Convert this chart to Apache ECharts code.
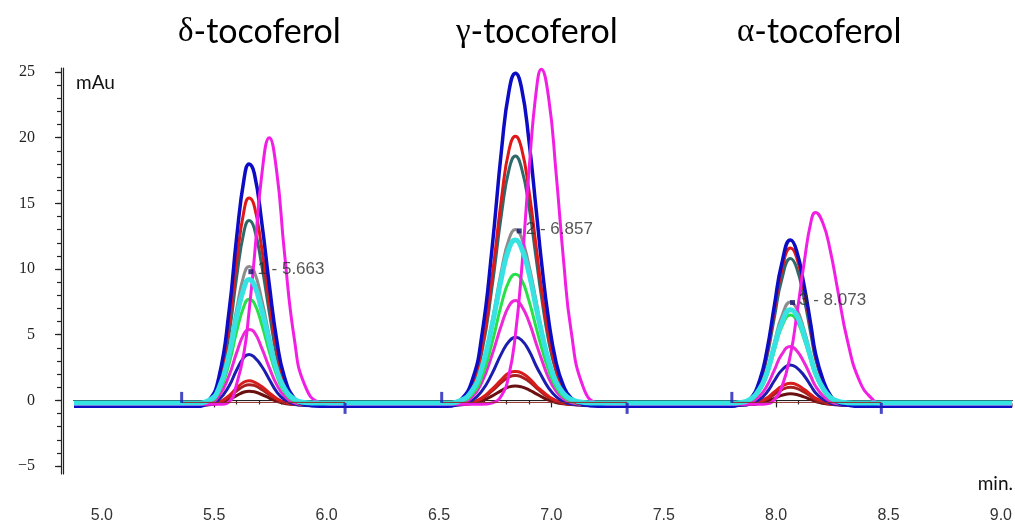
<!DOCTYPE html>
<html><head><meta charset="utf-8">
<script src="https://cdn.jsdelivr.net/npm/echarts@6/dist/echarts.min.js"></script>
<style>html,body{margin:0;padding:0;background:#fff}#c{width:1015px;height:524px}</style>
</head><body><div id="c"></div>
<script>
// ---- time grid (min) ----
const tLead  = [4.876, 5.00, 5.20, 5.355];
const tDelta = [5.42, 5.476, 5.521, 5.566, 5.599, 5.633, 5.655, 5.678, 5.711, 5.745, 5.778, 5.812, 5.857, 5.902, 5.969, 6.036];
const tGap1  = [6.082, 6.30, 6.512];
const tGamma = [6.537, 6.592, 6.647, 6.691, 6.735, 6.779, 6.812, 6.84, 6.867, 6.90, 6.933, 6.955, 6.988, 7.021, 7.054, 7.087, 7.142, 7.208, 7.285];
const tGap2  = [7.337, 7.55, 7.803];
const tAlpha = [7.838, 7.882, 7.926, 7.959, 7.992, 8.025, 8.064, 8.091, 8.124, 8.155, 8.175, 8.208, 8.241, 8.274, 8.318, 8.373, 8.428];
const tTail  = [8.468, 8.70, 9.05];

// ---- traces (mAu) : baseline level + values over each peak window ----
const blueMainBase = -0.45;
const blueMainD = [-0.45,0.0,1.8,6.8,12.3,16.9,18.0,17.3,13.6,8.8,4.6,1.8,0.15,-0.3,-0.45,-0.45];
const blueMainG = [-0.45,-0.05,1.5,5.0,11.4,19.2,23.6,24.9,23.8,19.8,14.4,10.7,6.1,2.9,1.1,0.2,-0.3,-0.45,-0.45];
const blueMainA = [-0.3,0.05,1.5,3.8,7.2,10.4,12.2,11.4,8.8,5.7,3.6,1.6,0.4,-0.15,-0.35,-0.45,-0.45];

const redMainBase = -0.4;
const redMainD = [-0.4,-0.08,1.5,5.8,10.5,14.5,15.4,14.8,11.6,7.5,3.9,1.5,0.07,-0.32,-0.4,-0.4];
const redMainG = [-0.4,-0.11,1.2,4.0,9.2,15.5,19.1,20.1,19.2,16.0,11.6,8.6,4.9,2.3,0.8,0.07,-0.32,-0.4,-0.4];
const redMainA = [-0.33,0.03,1.4,3.6,6.8,9.9,11.6,10.9,8.4,5.4,3.4,1.5,0.34,-0.15,-0.35,-0.4,-0.4];

const slateBase = -0.35;
const slateD = [-0.35,-0.07,1.3,5.1,9.3,12.9,13.7,13.1,10.3,6.7,3.4,1.3,0.07,-0.28,-0.35,-0.35];
const slateG = [-0.35,-0.08,1.1,3.7,8.5,14.3,17.6,18.6,17.7,14.8,10.7,8.0,4.5,2.2,0.77,0.09,-0.27,-0.35,-0.35];
const slateA = [-0.28,0.05,1.3,3.3,6.3,9.2,10.8,10.1,7.8,5.0,3.2,1.4,0.34,-0.12,-0.3,-0.35,-0.35];

const grayBase = -0.35;
const grayD = [-0.35,-0.14,0.9,3.8,6.9,9.6,10.2,9.8,7.7,4.9,2.5,0.9,-0.03,-0.3,-0.35,-0.35];
const grayG = [-0.35,-0.16,0.66,2.5,5.9,10.0,12.3,13.0,12.4,10.3,7.5,5.5,3.1,1.4,0.44,-0.04,-0.3,-0.35,-0.35];
const grayA = [-0.3,-0.07,0.83,2.2,4.4,6.4,7.5,7.0,5.4,3.4,2.2,0.9,0.14,-0.19,-0.32,-0.35,-0.35];

const cyanBase = -0.2;
const cyanD = [-0.2,-0.01,0.93,3.5,6.3,8.6,9.2,8.8,6.9,4.5,2.3,0.93,0.08,-0.15,-0.2,-0.2];
const cyanG = [-0.2,-0.03,0.74,2.5,5.6,9.4,11.6,12.2,11.6,9.7,7.0,5.3,3.0,1.4,0.53,0.09,-0.15,-0.2,-0.2];
const cyanA = [-0.16,0.06,0.87,2.1,4.1,5.9,6.9,6.5,5.0,3.2,2.1,0.94,0.24,-0.05,-0.17,-0.2,-0.2];

const greenBase = -0.3;
const greenD = [-0.3,-0.14,0.66,2.8,5.2,7.2,7.7,7.4,5.8,3.7,1.9,0.66,-0.06,-0.26,-0.3,-0.3];
const greenG = [-0.3,-0.16,0.45,1.8,4.3,7.4,9.1,9.6,9.2,7.6,5.5,4.1,2.3,1.0,0.28,-0.07,-0.26,-0.3,-0.3];
const greenA = [-0.26,-0.06,0.72,1.9,3.8,5.6,6.5,6.1,4.7,3.0,1.9,0.79,0.12,-0.16,-0.27,-0.3,-0.3];

const pinkBase = -0.35;
const pinkD = [-0.35,-0.24,0.34,1.9,3.6,5.1,5.4,5.2,4.0,2.5,1.2,0.34,-0.18,-0.32,-0.35,-0.35];
const pinkG = [-0.35,-0.24,0.25,1.4,3.4,5.8,7.2,7.6,7.2,6.0,4.3,3.2,1.7,0.7,0.12,-0.17,-0.32,-0.35,-0.35];
const pinkA = [-0.32,-0.19,0.32,1.1,2.3,3.5,4.1,3.8,2.9,1.8,1.1,0.36,-0.07,-0.26,-0.33,-0.35,-0.35];

const blueSmallBase = -0.4;
const blueSmallD = [-0.4,-0.32,0.07,1.1,2.3,3.3,3.5,3.3,2.6,1.6,0.65,0.07,-0.28,-0.38,-0.4,-0.4];
const blueSmallG = [-0.4,-0.33,0.0,0.72,2.0,3.6,4.5,4.8,4.6,3.8,2.6,1.9,0.94,0.29,-0.09,-0.28,-0.38,-0.4,-0.4];
const blueSmallA = [-0.38,-0.29,0.07,0.62,1.5,2.3,2.7,2.5,1.9,1.1,0.59,0.1,-0.21,-0.33,-0.39,-0.4,-0.4];

const redSmallBase = -0.35;
const redSmallD = [-0.35,-0.31,-0.13,0.37,0.93,1.4,1.5,1.4,1.06,0.58,0.15,-0.13,-0.29,-0.34,-0.35,-0.35];
const redSmallG = [-0.35,-0.31,-0.16,0.2,0.84,1.6,2.1,2.2,2.1,1.7,1.1,0.77,0.31,-0.01,-0.2,-0.29,-0.34,-0.35,-0.35];
const redSmallA = [-0.34,-0.29,-0.1,0.19,0.64,1.07,1.3,1.2,0.85,0.44,0.18,-0.09,-0.25,-0.32,-0.34,-0.35,-0.35];

const red2Base = -0.35;
const red2D = [-0.35,-0.32,-0.16,0.25,0.72,1.1,1.2,1.14,0.83,0.43,0.07,-0.16,-0.3,-0.34,-0.35,-0.35];
const red2G = [-0.35,-0.32,-0.18,0.13,0.7,1.4,1.8,1.9,1.8,1.45,0.96,0.64,0.23,-0.05,-0.22,-0.3,-0.34,-0.35,-0.35];
const red2A = [-0.34,-0.3,-0.15,0.1,0.46,0.81,1.0,0.92,0.64,0.3,0.08,-0.13,-0.27,-0.32,-0.34,-0.35,-0.35];

const darkRedBase = -0.35;
const darkRedD = [-0.35,-0.33,-0.22,0.06,0.37,0.64,0.7,0.66,0.45,0.18,-0.07,-0.22,-0.32,-0.34,-0.35,-0.35];
const darkRedG = [-0.35,-0.33,-0.24,-0.04,0.33,0.77,1.03,1.1,1.03,0.81,0.5,0.29,0.02,-0.16,-0.26,-0.32,-0.34,-0.35,-0.35];
const darkRedA = [-0.34,-0.32,-0.22,-0.07,0.16,0.38,0.5,0.45,0.27,0.06,-0.08,-0.21,-0.3,-0.33,-0.35,-0.35,-0.35];

const magShiftBase = -0.3;
const magShiftD = [-0.3,-0.3,-0.3,-0.1,1.2,3.7,6.8,10.8,17.1,20.0,17.4,11.3,4.6,1.2,-0.15,-0.3];
const magShiftG = [-0.3,-0.3,-0.3,-0.3,-0.2,0.4,2.0,5.0,9.8,17.4,23.6,25.2,23.0,17.3,10.7,5.4,1.0,-0.2,-0.3];
const magShiftA = [-0.3,-0.3,-0.3,-0.25,0.05,1.0,3.5,6.4,10.4,13.6,14.3,13.5,11.4,8.4,4.5,1.4,0.1];

// ---- integration marks & peak labels ----
const intStartT = [5.355, 6.512, 7.803];
const intEndT   = [6.082, 7.337, 8.468];
const intLevel  = -0.15;
const peakTimes   = [5.663, 6.857, 8.073];
const peakHeights = [9.8, 12.9, 7.45];
const peakNames   = ['1 - 5.663', '2 - 6.857', '3 - 8.073'];

// ---- tick labels ----
const xMajor = [5.0, 5.5, 6.0, 6.5, 7.0, 7.5, 8.0, 8.5, 9.0];
const xMinor = [4.9,5.0,5.1,5.2,5.3,5.4,5.5,5.6,5.7,5.8,5.9,6.0,6.1,6.2,6.3,6.4,6.5,6.6,6.7,6.8,6.9,7.0,7.1,7.2,7.3,7.4,7.5,7.6,7.7,7.8,7.9,8.0,8.1,8.2,8.3,8.4,8.5,8.6,8.7,8.8,8.9,9.0];
const yMajor = [-5, 0, 5, 10, 15, 20, 25];
const yMinor = [-5,-4,-3,-2,-1,0,1,2,3,4,5,6,7,8,9,10,11,12,13,14,15,16,17,18,19,20,21,22,23,24,25];

const times = [...tLead, ...tDelta, ...tGap1, ...tGamma, ...tGap2, ...tAlpha, ...tTail];
function trace(base, d, g, a, color, width) {
  const vals = [...tLead.map(() => base), ...d, ...tGap1.map(() => base), ...g,
                ...tGap2.map(() => base), ...a, ...tTail.map(() => base)];
  return {
    type: 'line', data: times.map((t, i) => [t, vals[i]]),
    smooth: 0.5, symbol: 'none', showSymbol: false,
    lineStyle: { color: color, width: width }, silent: true
  };
}

const series = [
  trace(darkRedBase, darkRedD, darkRedG, darkRedA, '#6a1010', 3),
  trace(red2Base, red2D, red2G, red2A, '#a82020', 3),
  trace(redSmallBase, redSmallD, redSmallG, redSmallA, '#d81c1c', 3),
  trace(blueSmallBase, blueSmallD, blueSmallG, blueSmallA, '#1c1cb0', 3),
  trace(pinkBase, pinkD, pinkG, pinkA, '#ec28d8', 3),
  trace(greenBase, greenD, greenG, greenA, '#28e048', 3),
  trace(grayBase, grayD, grayG, grayA, '#8c8c8c', 3),
  trace(slateBase, slateD, slateG, slateA, '#2f6a6a', 3),
  trace(redMainBase, redMainD, redMainG, redMainA, '#e01818', 3),
  trace(blueMainBase, blueMainD, blueMainG, blueMainA, '#0c0cc4', 3.5),
  trace(magShiftBase, magShiftD, magShiftG, magShiftA, '#f21ee4', 3),
  trace(cyanBase, cyanD, cyanG, cyanA, '#36e2e2', 5)
];
intStartT.forEach((t, i) => {
  series.push({ type: 'line', data: [[t, intLevel], [intEndT[i], intLevel]], symbol: 'none',
    lineStyle: { color: '#8b2a2a', width: 1 }, silent: true });
});
series.push({ type: 'scatter', data: intStartT.map(t => [t, intLevel]), symbol: 'rect',
  symbolSize: [3, 11], symbolOffset: [0, -5], itemStyle: { color: '#1a1ab8' }, silent: true, z: 5 });
series.push({ type: 'scatter', data: intEndT.map(t => [t, intLevel]), symbol: 'rect',
  symbolSize: [3, 11], symbolOffset: [0, 6], itemStyle: { color: '#1a1ab8' }, silent: true, z: 5 });
series.push({ type: 'scatter', data: peakTimes.map((t, i) => [t, peakHeights[i]]), symbol: 'rect',
  symbolSize: 5, itemStyle: { color: '#141470' }, silent: true, z: 6,
  label: { show: true, position: 'right', distance: 4, offset: [0, -2],
    formatter: p => peakNames[p.dataIndex],
    fontFamily: 'Liberation Sans', fontSize: 17, color: '#2a2a2a' } });

const axisCol = '#222';
const xBase = { type: 'value', min: 4.876, max: 9.05, position: 'bottom', splitLine: { show: false } };
const yBase = { type: 'value', min: -5.6, max: 25.3, position: 'left', splitLine: { show: false } };
const titleRich = {
  g: { fontFamily: 'Liberation Serif', fontSize: 33, fontWeight: 'normal', color: '#000' },
  t: { fontFamily: 'Lato', fontSize: 34, fontWeight: 'normal', color: '#000' }
};

const option = {
  animation: false,
  backgroundColor: '#fff',
  grid: { left: 74, right: 0, top: 68, bottom: 46 },
  title: [
    { text: '{g|δ}{t|-tocoferol}', left: 178, top: 15, padding: 0, textStyle: { fontWeight: 'normal', rich: titleRich } },
    { text: '{g|γ}{t|-tocoferol}', left: 456, top: 15, padding: 0, textStyle: { fontWeight: 'normal', rich: titleRich } },
    { text: '{g|α}{t|-tocoferol}', left: 737, top: 15, padding: 0, textStyle: { fontWeight: 'normal', rich: titleRich } },
    { text: 'mAu', left: 76, top: 73, padding: 0,
      textStyle: { fontFamily: 'Lato', fontSize: 19, fontWeight: 'normal', color: '#111' } },
    { text: 'min.', right: 2, top: 474, padding: 0,
      textStyle: { fontFamily: 'Lato', fontSize: 19, fontWeight: 'normal', color: '#111' } }
  ],
  xAxis: [
    Object.assign({}, xBase, { offset: 19, axisLine: { show: true, lineStyle: { color: axisCol, width: 1.2 } },
      axisTick: { show: false }, axisLabel: { show: false } }),
    Object.assign({}, xBase, { offset: 22, axisLine: { show: true, lineStyle: { color: axisCol, width: 1.2 } },
      axisTick: { show: true, length: 4, customValues: xMinor, lineStyle: { color: axisCol, width: 1.2 } },
      axisLabel: { show: false } }),
    Object.assign({}, xBase, { offset: 22, axisLine: { show: false },
      axisTick: { show: true, length: 7, customValues: xMajor, lineStyle: { color: axisCol, width: 1.2 } },
      axisLabel: { show: true, customValues: xMajor, margin: 12, formatter: v => Number(v).toFixed(1),
        fontFamily: 'Liberation Sans', fontSize: 16, color: '#333' } })
  ],
  yAxis: [
    Object.assign({}, yBase, { offset: 11, axisLine: { show: true, lineStyle: { color: axisCol, width: 1.2 } },
      axisTick: { show: false }, axisLabel: { show: false } }),
    Object.assign({}, yBase, { offset: 13, axisLine: { show: true, lineStyle: { color: axisCol, width: 1.2 } },
      axisTick: { show: true, length: 4, customValues: yMinor, lineStyle: { color: axisCol, width: 1.2 } },
      axisLabel: { show: false } }),
    Object.assign({}, yBase, { offset: 13, axisLine: { show: false },
      axisTick: { show: true, length: 6, customValues: yMajor, lineStyle: { color: axisCol, width: 1.2 } },
      axisLabel: { show: true, customValues: yMajor, margin: 26,
        formatter: v => (v < 0 ? '\u2212' + Math.abs(v) : String(v)),
        fontFamily: 'Liberation Serif', fontSize: 16, color: '#222' } })
  ],
  series: series
};
echarts.init(document.getElementById('c'), null, { renderer: 'canvas' }).setOption(option);
</script></body></html>
